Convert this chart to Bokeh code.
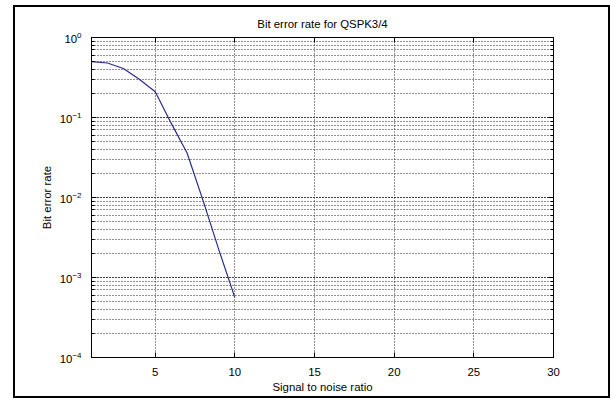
from bokeh.plotting import figure
from bokeh.models import LinearAxis, LogAxis, FixedTicker, LogTicker, Range1d
from bokeh.embed import file_html
from bokeh.resources import INLINE

# data
snr = [1, 2, 3, 4, 5, 6, 7, 8, 9, 10]
ber = [0.50, 0.48, 0.41, 0.30, 0.21, 0.085, 0.036, 0.0092, 0.0022, 0.00056]
x_ticks = [5, 10, 15, 20, 25, 30]
x_limits = [1, 30]
y_limits = [1e-4, 1.0]

FONT = "Liberation Sans"
FS = "11.4px"
GRID = "#222222"

p = figure(width=597, height=393,
           x_range=Range1d(*x_limits), y_range=Range1d(*y_limits),
           y_axis_type="log", output_backend="svg", toolbar_location=None,
           min_border_left=76, min_border_right=59, min_border_top=30, min_border_bottom=43,
           title="Bit error rate for QSPK3/4")
p.styles = {"margin-left": "13px", "margin-top": "5px",
            "border": "2px solid black"}
p.background_fill_color = "white"
p.border_fill_color = "white"
p.outline_line_color = "black"
p.outline_line_width = 1

p.title.text_font = FONT
p.title.text_font_size = FS
p.title.text_font_style = "normal"
p.title.align = "center"
p.title.text_color = "black"
p.title.standoff = 15

p.line(snr, ber, line_color="#2b2b8c", line_width=1.2)

# bottom axis
xa = p.xaxis[0]
xa.ticker = FixedTicker(ticks=x_ticks)
xa.major_tick_in = 5
xa.major_tick_out = 0
xa.minor_tick_line_color = None
xa.axis_label = "Signal to noise ratio"
xa.axis_label_text_font = FONT
xa.axis_label_text_font_size = FS
xa.axis_label_text_font_style = "normal"
xa.axis_label_text_color = "black"
xa.axis_label_standoff = 2
xa.major_label_text_font = FONT
xa.major_label_text_font_size = FS
xa.major_label_text_color = "black"
xa.major_label_standoff = 10
xa.axis_line_color = "black"
xa.major_tick_line_color = "black"

# left axis
ya = p.yaxis[0]
ya.ticker = LogTicker(num_minor_ticks=10)
ya.major_tick_in = 5
ya.major_tick_out = 0
ya.minor_tick_in = 3
ya.minor_tick_out = 0
ya.axis_label = "Bit error rate"
ya.axis_label_text_font = FONT
ya.axis_label_text_font_size = FS
ya.axis_label_text_font_style = "normal"
ya.axis_label_text_color = "black"
ya.axis_label_standoff = 4
ya.major_label_text_font = FONT
ya.major_label_text_font_size = FS
ya.major_label_text_color = "black"
ya.major_label_standoff = 10
ya.axis_line_color = "black"
ya.major_tick_line_color = "black"
ya.minor_tick_line_color = "black"

# mirrored axes (box on), no labels
top = LinearAxis(ticker=FixedTicker(ticks=x_ticks), major_label_text_font_size="1px",
                 major_label_text_color=None,
                 major_tick_in=5, major_tick_out=0, minor_tick_line_color=None,
                 major_label_standoff=0, major_tick_line_color="black", axis_line_color="black")
p.add_layout(top, "above")
right = LogAxis(ticker=LogTicker(num_minor_ticks=10), major_label_text_font_size="1px",
                major_label_text_color=None,
                major_tick_in=5, major_tick_out=0, minor_tick_in=3, minor_tick_out=0,
                major_label_standoff=0, major_tick_line_color="black",
                minor_tick_line_color="black", axis_line_color="black")
p.add_layout(right, "right")

# grids
p.xgrid.ticker = FixedTicker(ticks=x_ticks)
p.xgrid.grid_line_color = GRID
p.xgrid.grid_line_dash = "1 2"
p.ygrid.ticker = LogTicker(num_minor_ticks=10)
p.ygrid.grid_line_color = GRID
p.ygrid.grid_line_dash = "1 2"
p.ygrid.minor_grid_line_color = GRID
p.ygrid.minor_grid_line_dash = "1 2"

open("out.html", "w").write(file_html(p, INLINE))
